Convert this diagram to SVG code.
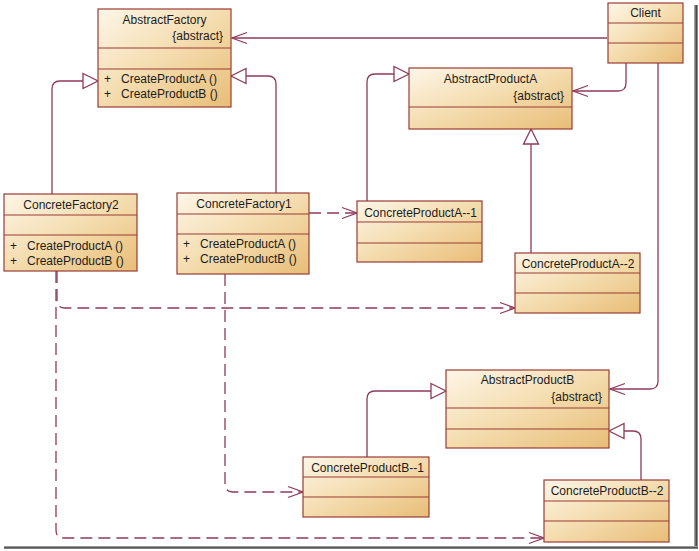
<svg xmlns="http://www.w3.org/2000/svg" width="699" height="551" viewBox="0 0 699 551">
<style>
.box{fill:url(#boxfill);stroke:#9a3c34;stroke-width:1.2}
.sep{stroke:#9a3c34;stroke-width:1.2}
.t{font-family:"Liberation Sans",Arial,sans-serif;font-size:12px;fill:#1c1c1c}
.c{text-anchor:middle}
.r{text-anchor:end}
.con{fill:none;stroke:#8e3a5c;stroke-width:1.3}
.dash{stroke-dasharray:12 6}
</style>
<defs>
<linearGradient id="boxfill" x1="0" y1="0" x2="1" y2="1">
<stop offset="0" stop-color="#fdf6e8"/>
<stop offset="0.5" stop-color="#f4dcae"/>
<stop offset="1" stop-color="#e8bd77"/>
</linearGradient>
<linearGradient id="shv" x1="0" y1="0" x2="1" y2="0">
<stop offset="0" stop-color="#bbbbbb"/>
<stop offset="0.6" stop-color="#444444"/>
<stop offset="1" stop-color="#aaaaaa"/>
</linearGradient>
<linearGradient id="shh" x1="0" y1="0" x2="0" y2="1">
<stop offset="0" stop-color="#bbbbbb"/>
<stop offset="0.6" stop-color="#444444"/>
<stop offset="1" stop-color="#aaaaaa"/>
</linearGradient>
<marker id="open" markerUnits="userSpaceOnUse" markerWidth="17" markerHeight="14" refX="15" refY="6" orient="auto" overflow="visible">
<path d="M0,0.5 L15,6 L0,11.5" fill="none" stroke="#8e3a5c" stroke-width="1.3"/>
</marker>
<marker id="tri" markerUnits="userSpaceOnUse" markerWidth="17" markerHeight="17" refX="15" refY="7.5" orient="auto" overflow="visible">
<path d="M0,0 L15,7.5 L0,15 Z" fill="#ffffff" stroke="#8e3a5c" stroke-width="1.3"/>
</marker>
</defs>
<rect x="0" y="0" width="699" height="551" fill="#ffffff"/>
<rect x="694" y="5" width="4" height="544" fill="url(#shv)"/>
<rect x="4" y="546" width="694" height="3" fill="url(#shh)"/>

<g id="connectors">
<path class="con" d="M607,38 L232,38" marker-end="url(#open)"/>
<path class="con" d="M626,63 L626,83 Q626,91 618,91 L573,91" marker-end="url(#open)"/>
<path class="con" d="M658,63 L658,381 Q658,389 650,389 L610,389" marker-end="url(#open)"/>
<path class="con" d="M52,194 L52,89 Q52,81 60,81 L98,81" marker-end="url(#tri)"/>
<path class="con" d="M276,193 L276,84 Q276,76 268,76 L231,76" marker-end="url(#tri)"/>
<path class="con" d="M367,201 L367,82 Q367,74 375,74 L409,74" marker-end="url(#tri)"/>
<path class="con" d="M531,253 L531,129" marker-end="url(#tri)"/>
<path class="con" d="M367,457 L367,399 Q367,391 375,391 L446,391" marker-end="url(#tri)"/>
<path class="con" d="M641,480 L641,439 Q641,431 633,431 L609,431" marker-end="url(#tri)"/>
<path class="con dash" d="M309,213 L357,213" marker-end="url(#open)"/>
<path class="con dash" d="M57,271 L57,300 Q57,308 65,308 L515,308" marker-end="url(#open)"/>
<path class="con dash" d="M56,271 L56,530 Q56,538 64,538 L544,538" marker-end="url(#open)"/>
<path class="con dash" d="M225,274 L225,484 Q225,492 233,492 L303,492" marker-end="url(#open)"/>
</g>

<g id="AbstractFactory">
<rect class="box" x="98" y="9" width="133" height="98"/>
<line class="sep" x1="98" y1="48" x2="231" y2="48"/>
<line class="sep" x1="98" y1="69" x2="231" y2="69"/>
<text class="t c" x="164.5" y="24">AbstractFactory</text>
<text class="t r" x="223" y="40">{abstract}</text>
<text class="t" x="104" y="83">+</text>
<text class="t" x="121" y="83">CreateProductA ()</text>
<text class="t" x="104" y="98">+</text>
<text class="t" x="121" y="98">CreateProductB ()</text>
</g>

<g id="Client">
<rect class="box" x="608" y="3" width="75" height="60"/>
<line class="sep" x1="608" y1="23" x2="683" y2="23"/>
<line class="sep" x1="608" y1="43" x2="683" y2="43"/>
<text class="t c" x="645.5" y="17">Client</text>
</g>

<g id="AbstractProductA">
<rect class="box" x="409" y="68" width="163" height="61"/>
<line class="sep" x1="409" y1="107" x2="572" y2="107"/>
<text class="t c" x="490.5" y="83">AbstractProductA</text>
<text class="t r" x="564" y="100">{abstract}</text>
</g>

<g id="ConcreteFactory2">
<rect class="box" x="4" y="194" width="133" height="77"/>
<line class="sep" x1="4" y1="215" x2="137" y2="215"/>
<line class="sep" x1="4" y1="235" x2="137" y2="235"/>
<text class="t c" x="71" y="209">ConcreteFactory2</text>
<text class="t" x="10" y="250">+</text>
<text class="t" x="27" y="250">CreateProductA ()</text>
<text class="t" x="10" y="265">+</text>
<text class="t" x="27" y="265">CreateProductB ()</text>
</g>

<g id="ConcreteFactory1">
<rect class="box" x="177" y="193" width="132" height="81"/>
<line class="sep" x1="177" y1="214" x2="309" y2="214"/>
<line class="sep" x1="177" y1="234" x2="309" y2="234"/>
<text class="t c" x="244" y="208">ConcreteFactory1</text>
<text class="t" x="183" y="248">+</text>
<text class="t" x="200" y="248">CreateProductA ()</text>
<text class="t" x="183" y="263">+</text>
<text class="t" x="200" y="263">CreateProductB ()</text>
</g>

<g id="ConcreteProductA1">
<rect class="box" x="357" y="201" width="125" height="61"/>
<line class="sep" x1="357" y1="222" x2="482" y2="222"/>
<line class="sep" x1="357" y1="243" x2="482" y2="243"/>
<text class="t c" x="420.5" y="217">ConcreteProductA--1</text>
</g>

<g id="ConcreteProductA2">
<rect class="box" x="515" y="253" width="125" height="60"/>
<line class="sep" x1="515" y1="273" x2="640" y2="273"/>
<line class="sep" x1="515" y1="293" x2="640" y2="293"/>
<text class="t c" x="578" y="268">ConcreteProductA--2</text>
</g>

<g id="AbstractProductB">
<rect class="box" x="446" y="370" width="163" height="78"/>
<line class="sep" x1="446" y1="408" x2="609" y2="408"/>
<line class="sep" x1="446" y1="429" x2="609" y2="429"/>
<text class="t c" x="527.5" y="384">AbstractProductB</text>
<text class="t r" x="602" y="401">{abstract}</text>
</g>

<g id="ConcreteProductB1">
<rect class="box" x="303" y="457" width="126" height="60"/>
<line class="sep" x1="303" y1="477" x2="429" y2="477"/>
<line class="sep" x1="303" y1="497" x2="429" y2="497"/>
<text class="t c" x="367.5" y="471.5">ConcreteProductB--1</text>
</g>

<g id="ConcreteProductB2">
<rect class="box" x="544" y="480" width="125" height="62"/>
<line class="sep" x1="544" y1="501" x2="669" y2="501"/>
<line class="sep" x1="544" y1="521" x2="669" y2="521"/>
<text class="t c" x="607" y="495">ConcreteProductB--2</text>
</g>
</svg>
